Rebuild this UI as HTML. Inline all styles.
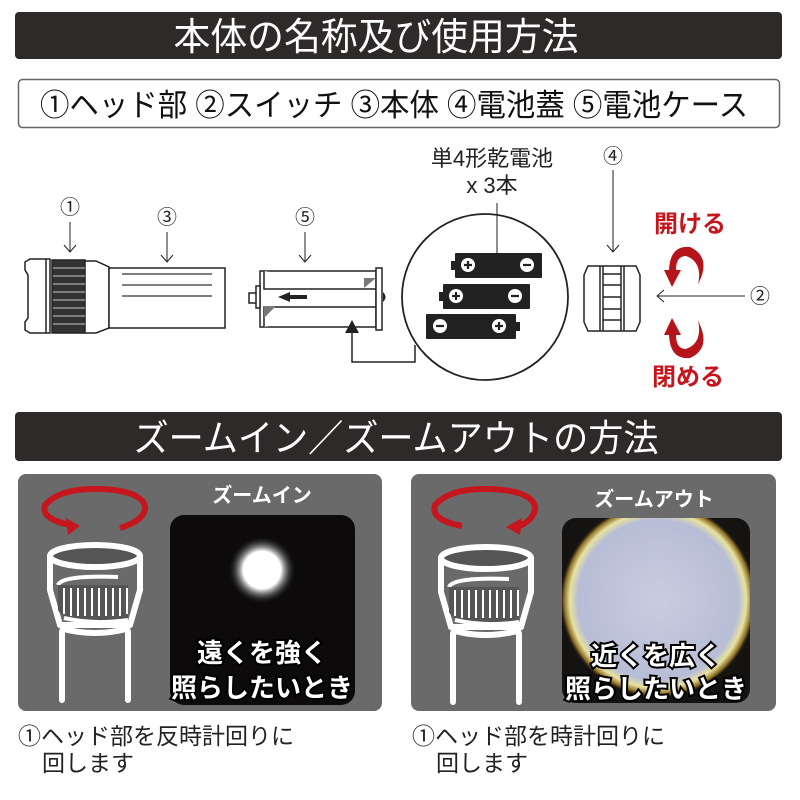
<!DOCTYPE html>
<html><head><meta charset="utf-8"><style>
html,body{margin:0;padding:0;background:#fff;}
svg{display:block;}
text{font-family:"Liberation Sans","Noto Sans CJK JP",sans-serif;}
</style></head><body>
<svg width="800" height="800" viewBox="0 0 800 800" xmlns="http://www.w3.org/2000/svg">
<defs>
<radialGradient id="spot" cx="50%" cy="50%" r="50%">
<stop offset="0" stop-color="#fff"/><stop offset="0.55" stop-color="#fff"/><stop offset="1" stop-color="#111" stop-opacity="0"/>
</radialGradient>
<radialGradient id="wide" cx="50%" cy="50%" r="50%">
<stop offset="0" stop-color="#c9cde0"/><stop offset="0.82" stop-color="#b7bdd6"/><stop offset="0.9" stop-color="#e8e2a0"/><stop offset="0.96" stop-color="#8a6a20"/><stop offset="1" stop-color="#1a1a1a" stop-opacity="0"/>
</radialGradient>
<clipPath id="cb"><rect x="562" y="518" width="188" height="185" rx="14"/></clipPath>
</defs>
<!-- title 1 -->
<rect x="15" y="12" width="767" height="47" rx="4" fill="#2e2a2a"/>
<text x="376" y="50" font-size="38" fill="#fff" text-anchor="middle" textLength="405" lengthAdjust="spacingAndGlyphs">本体の名称及び使用方法</text>
<rect x="18.5" y="79.5" width="761" height="48" rx="4" fill="#fff" stroke="#666" stroke-width="1.5"/>
<text x="394" y="116" font-size="31" fill="#111" text-anchor="middle" textLength="708" lengthAdjust="spacingAndGlyphs">①ヘッド部 ②スイッチ ③本体 ④電池蓋 ⑤電池ケース</text>

<!-- numbers & arrows -->
<g font-size="20" fill="#222" text-anchor="middle">
<text x="70" y="214">①</text><text x="167" y="224">③</text><text x="305" y="224">⑤</text><text x="613" y="163">④</text><text x="760" y="303">②</text>
</g>
<g stroke="#222" stroke-width="1" fill="none">
<path d="M70 222V252M64 245L70 252L76 245"/>
<path d="M167 232V262M161 255L167 262L173 255"/>
<path d="M305 232V262M299 255L305 262L311 255"/>
<path d="M613 170V252M607 245L613 252L619 245"/>
<path d="M745 296H657M664 290L657 296L664 302"/>
</g>
<!-- flashlight -->
<g stroke="#222" stroke-width="1.5" fill="#fff">
<path d="M25 262L30 259H50V333H30L25 330V322L28 318V275L25 270Z"/>
<line x1="46" y1="259" x2="46" y2="333"/>
<rect x="52" y="260" width="33" height="73" fill="#333"/>
<path d="M85 261H96L109 267V328L96 333H85Z"/>
<path d="M109 268H225V328H109Z"/>
</g>
<g stroke="#fff" stroke-width="0.8">
<line x1="53" y1="268" x2="85" y2="268"/><line x1="53" y1="276" x2="85" y2="276"/><line x1="53" y1="284" x2="85" y2="284"/><line x1="53" y1="292" x2="85" y2="292"/><line x1="53" y1="300" x2="85" y2="300"/><line x1="53" y1="308" x2="85" y2="308"/><line x1="53" y1="316" x2="85" y2="316"/><line x1="53" y1="324" x2="85" y2="324"/>
</g>
<g stroke="#333" stroke-width="1.2"><line x1="122" y1="274" x2="212" y2="274"/><line x1="122" y1="285" x2="212" y2="285"/><line x1="122" y1="296" x2="212" y2="296"/></g>
<!-- battery case -->
<g stroke="#222" stroke-width="1.5" fill="#fff">
<rect x="260" y="271" width="116" height="56"/>
<rect x="376" y="268" width="6" height="62"/>
<path d="M264 271V289H376"/><path d="M264 327V307H376"/>
<rect x="249" y="293" width="8" height="10"/><rect x="256" y="286" width="4" height="22"/>
</g>
<path d="M383 292Q388 297 383 302Z" fill="#222"/>
<path d="M278 297L290 292V295H307V299H290V302Z" fill="#222"/>
<path d="M364 288V278H376Z" fill="#777"/>
<path d="M264 306H276L264 318Z" fill="#777"/>
<path d="M352 320L345 333H359Z" fill="#222"/>
<path d="M352 330V362H415V345" stroke="#222" stroke-width="1.5" fill="none"/>
<!-- circle w batteries -->
<circle cx="485" cy="297" r="83" fill="#fff" stroke="#222" stroke-width="1.8"/>
<text x="492" y="166" font-size="22" fill="#222" text-anchor="middle">単4形乾電池</text>
<text x="492" y="193" font-size="22" fill="#222" text-anchor="middle">x 3本</text>
<line x1="497" y1="203" x2="497" y2="253" stroke="#222" stroke-width="1"/>
<g fill="#222">
<rect x="455" y="253" width="87" height="25" rx="1"/><rect x="451" y="261" width="5" height="9"/>
<rect x="443" y="284" width="87" height="25" rx="1"/><rect x="439" y="292" width="5" height="9"/>
<rect x="426" y="314" width="90" height="25" rx="1"/><rect x="515" y="322" width="5" height="9"/>
</g>
<g fill="#fff">
<circle cx="468" cy="265" r="7"/><circle cx="527" cy="265" r="7"/>
<circle cx="456" cy="296" r="7"/><circle cx="515" cy="296" r="7"/>
<circle cx="440" cy="326" r="7"/><circle cx="499" cy="326" r="7"/>
</g>
<g stroke="#222" stroke-width="2.2">
<path d="M464 265h8M468 261v8M523 265h8M452 296h8M456 292v8M511 296h8M436 326h8M495 326h8M499 322v8"/>
</g>
<!-- cap -->
<g stroke="#222" stroke-width="1.5" fill="#fff">
<path d="M588 266H636L640 275V322L636 331H588L584 322V275Z"/>
<line x1="600" y1="266" x2="600" y2="331"/><line x1="624" y1="266" x2="624" y2="331"/>
<line x1="603" y1="266" x2="603" y2="331"/><line x1="621" y1="266" x2="621" y2="331"/>
<path d="M603 274H621M603 285H621M603 297H621M603 309H621M603 320H621"/>
</g>
<!-- red arrows -->
<text x="690" y="232" font-size="24" font-weight="bold" fill="#c4161c" text-anchor="middle">開ける</text>
<text x="688" y="385" font-size="24" font-weight="bold" fill="#c4161c" text-anchor="middle">閉める</text>
<path d="M690 247Q708 255 702 275L698 285Q703 262 686 256Q676 256 676 270L681 270L672 287L664 270L669 270Q670 245 690 247Z" fill="#b5141b"/>
<path d="M690 358Q708 350 702 330L698 320Q703 343 686 349Q676 349 676 335L681 335L672 318L664 335L669 335Q670 360 690 358Z" fill="#b5141b"/>

<!-- title 2 -->
<rect x="15" y="412" width="767" height="49" rx="4" fill="#2e2a2a"/>
<text x="396" y="451" font-size="37" fill="#fff" text-anchor="middle" textLength="525" lengthAdjust="spacingAndGlyphs">ズームイン／ズームアウトの方法</text>

<!-- panels -->
<rect x="18" y="474" width="364" height="237" rx="8" fill="#6a6a6a"/>
<rect x="411" y="474" width="365" height="237" rx="8" fill="#6a6a6a"/>
<rect x="170" y="515" width="185" height="190" rx="14" fill="#0c0a0a"/>
<circle cx="262" cy="570" r="34" fill="url(#spot)"/>
<rect x="562" y="518" width="188" height="185" rx="14" fill="#151312"/>
<circle cx="658" cy="600" r="98" fill="url(#wide)" clip-path="url(#cb)"/>
<text x="262" y="502" font-size="20" font-weight="bold" fill="#fff" text-anchor="middle">ズームイン</text>
<text x="654" y="506" font-size="20" font-weight="bold" fill="#fff" text-anchor="middle">ズームアウト</text>
<g font-size="26" font-weight="bold" fill="#fff" text-anchor="middle" stroke="#000" stroke-width="4" paint-order="stroke">
<text x="262" y="662">遠くを強く</text><text x="262" y="697">照らしたいとき</text>
<text x="656" y="665">近くを広く</text><text x="656" y="698">照らしたいとき</text>
</g>
<!-- head icons -->
<g id="hd">
<path d="M50 556V590L60 625H130L140 590V556Z" fill="#6a6a6a" stroke="#fff" stroke-width="6" stroke-linejoin="round"/>
<ellipse cx="95" cy="556" rx="45" ry="11" fill="#555" stroke="#fff" stroke-width="6"/>
<path d="M58 585Q62 575 118 577" fill="none" stroke="#fff" stroke-width="4"/>
<path d="M58 585V610Q62 620 95 620H128V585Z" fill="#555"/>
<g stroke="#fff" stroke-width="2"><path d="M64 588v26M71 588v28M78 588v28M85 588v28M92 588v28M99 588v28M106 588v28M113 588v28M120 588v28M127 588v26"/></g>
<path d="M64 618Q95 625 128 620" fill="none" stroke="#fff" stroke-width="4"/>
<path d="M60 628Q95 638 130 628" fill="none" stroke="#fff" stroke-width="6"/>
<path d="M62 632V700M128 632V700" stroke="#fff" stroke-width="6" stroke-linecap="round"/>
</g>
<g transform="translate(391,2)">
<path d="M50 556V590L60 625H130L140 590V556Z" fill="#6a6a6a" stroke="#fff" stroke-width="6" stroke-linejoin="round"/>
<ellipse cx="95" cy="556" rx="45" ry="11" fill="#555" stroke="#fff" stroke-width="6"/>
<path d="M58 585Q62 575 118 577" fill="none" stroke="#fff" stroke-width="4"/>
<path d="M58 585V610Q62 620 95 620H128V585Z" fill="#555"/>
<g stroke="#fff" stroke-width="2"><path d="M64 588v26M71 588v28M78 588v28M85 588v28M92 588v28M99 588v28M106 588v28M113 588v28M120 588v28M127 588v26"/></g>
<path d="M64 618Q95 625 128 620" fill="none" stroke="#fff" stroke-width="4"/>
<path d="M60 628Q95 638 130 628" fill="none" stroke="#fff" stroke-width="6"/>
<path d="M62 632V700M128 632V700" stroke="#fff" stroke-width="6" stroke-linecap="round"/>
</g>
<!-- red rotation arrows -->
<path d="M75 526Q40 520 45 505Q60 488 98 489Q140 490 145 506Q146 520 120 528" fill="none" stroke="#c4161c" stroke-width="6"/>
<path d="M66 518L80 526L68 535Z" fill="#c4161c"/>
<path d="M462 526Q430 520 435 505Q450 488 488 489Q530 490 535 506Q536 520 515 528" fill="none" stroke="#c4161c" stroke-width="6"/>
<path d="M522 518L506 527L520 535Z" fill="#c4161c"/>
<!-- bottom text -->
<g font-size="23" fill="#222">
<text x="18" y="744">①ヘッド部を反時計回りに</text><text x="42" y="771">回します</text>
<text x="412" y="744">①ヘッド部を時計回りに</text><text x="436" y="771">回します</text>
</g>
</svg>
</body></html>
